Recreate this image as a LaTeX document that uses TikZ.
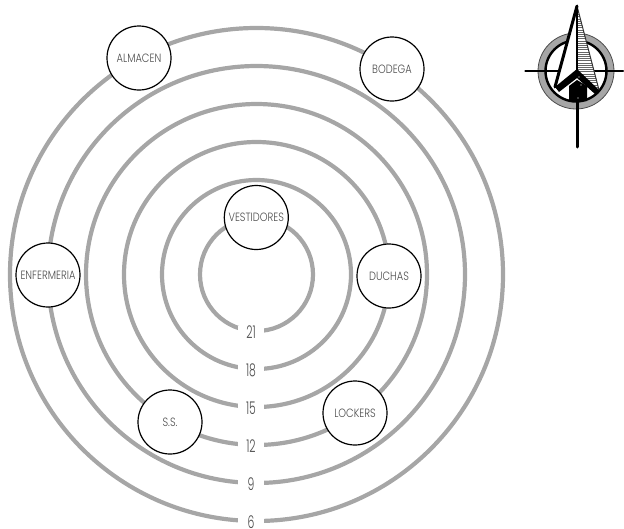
\documentclass[tikz,border=0pt]{standalone}
\usepackage{fontspec}
\setmainfont{Poppins Light}
\newfontfamily\roomfont[FakeStretch=0.82]{Poppins Light}
\newfontfamily\levelfont[FakeStretch=0.62]{Poppins Light}
\definecolor{ringgray}{HTML}{A6A6A6}
\definecolor{textgray}{HTML}{4D4D4D}
\tikzset{
  ring/.style={draw=ringgray,line width=4.2pt},
  room/.style={circle,draw=black,fill=white,line width=1.2pt,minimum size=64pt,inner sep=0pt,
    font=\roomfont\fontsize{12}{12}\selectfont,text=textgray},
  level/.style={fill=white,minimum width=26pt,minimum height=10pt,inner sep=0pt,
    font=\levelfont\fontsize{17.5}{12}\selectfont,text=textgray},
  compassline/.style={draw=black,line width=3pt,line cap=round,line join=round}
}
\begin{document}
\begin{tikzpicture}[x=1pt,y=-1pt]
\useasboundingbox (0,0) rectangle (624,528);
\coordinate (centre) at (256.5,274.5);

% rings and their levels
\foreach \rad/\lab in {56.5/21,94.5/18,132.5/15,170.5/12,208.5/9,246.5/6}{
  \draw[ring] (centre) circle (\rad pt);
  \node[level] (level\lab) at (251,275.5+\rad) {\lab};
}

% rooms
\node[room] (vestidores) at (256.3,217.5) {VESTIDORES};
\node[room] (duchas) at (389,276) {DUCHAS};
\node[room] (lockers) at (355,413) {LOCKERS};
\node[room] (ss) at (170,422) {S.S.};
\node[room] (enfermeria) at (48,275) {ENFERMERIA};
\node[room] (almacen) at (139,58) {ALMACEN};
\node[room] (bodega) at (392,69) {BODEGA};

% north sign
\coordinate (north) at (576,71);
\draw[ringgray,line width=7pt] (north) circle (34.5pt);
\draw[black!70,line width=0.8pt] (north) circle (38pt);
\draw[black,line width=2.4pt] (north) circle (30.5pt);
\draw[compassline,line width=2.6pt] (525.5,71) -- (623,71);
\fill[white] (577,6) -- (555,87) -- (577,70) -- (599,90) -- cycle;
\begin{scope}
  \clip (577,6) -- (577,70) -- (599,90) -- cycle;
  \foreach \yy in {8,10.2,...,92}{
    \draw[black!60,line width=0.8pt] (570,\yy) -- (605,\yy);
  }
\end{scope}
\draw[black!80,line width=1pt] (599,90) -- (577,6);
\draw[compassline] (577,6) -- (555,87);
\draw[black,line width=1.4pt] (577,6) -- (577,70);
\draw[compassline] (577,90) -- (577,147);
\fill[black] (555,87) -- (577,69) -- (599,90) -- (595,94) -- (577,78) -- (559,92) -- cycle;
\fill[black] (569,86) -- (577,80) -- (587,86) -- (587,101) -- (569,101) -- cycle;
\fill[white] (579,77) circle (0.7pt) (581,85) circle (0.7pt) (578,98) circle (0.7pt);
\end{tikzpicture}
\end{document}
